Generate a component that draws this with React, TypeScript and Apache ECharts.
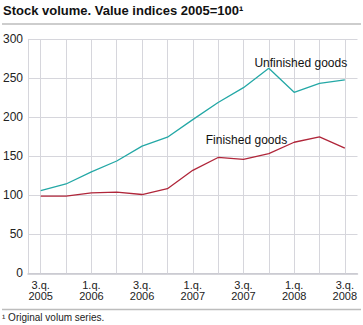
import React, { useEffect, useRef } from "react";
import * as echarts from "echarts";

const categories = [
  "3.q.\n2005", "4.q.\n2005",
  "1.q.\n2006", "2.q.\n2006", "3.q.\n2006", "4.q.\n2006",
  "1.q.\n2007", "2.q.\n2007", "3.q.\n2007", "4.q.\n2007",
  "1.q.\n2008", "2.q.\n2008", "3.q.\n2008",
];
const unfinished = [106, 114.5, 130, 144, 163, 174.5, 197, 219, 238, 263, 232, 243.5, 248];
const finished = [99, 99, 103, 104, 101, 108.5, 132, 148.5, 146, 153.5, 168, 175, 160.5];
const yTicks = { min: 0, max: 300, interval: 50 };

const TEAL = "#24a8a6";
const RED = "#b0263a";
const GRID = "#d6d6dc";

export default function App() {
  const ref = useRef<HTMLDivElement>(null);
  useEffect(() => {
    if (!ref.current) return;
    const chart = echarts.init(ref.current, null, { renderer: "svg" });
    chart.setOption({
      animation: false,
      textStyle: { fontFamily: "Liberation Sans, Arial, sans-serif" },
      grid: { left: 27.5, right: 5.5, top: 39.3, bottom: 51.7, containLabel: false },
      xAxis: {
        type: "category",
        data: categories,
        boundaryGap: true,
        axisLine: { show: true, lineStyle: { color: "#c8c8ce", width: 1.5 } },
        axisTick: {
          show: true,
          alignWithLabel: true,
          interval: 0,
          inside: true,
          length: 234,
          lineStyle: { color: GRID, width: 1 },
        },
        axisLabel: {
          interval: 1,
          fontSize: 11,
          color: "#222",
          lineHeight: 11,
          margin: 6,
        },
        splitLine: { show: false },
      },
      yAxis: {
        type: "value",
        min: yTicks.min,
        max: yTicks.max,
        interval: yTicks.interval,
        axisLine: { show: true, lineStyle: { color: GRID, width: 1 } },
        axisTick: { show: false },
        axisLabel: { fontSize: 12, color: "#222", margin: 5 },
        splitLine: { show: true, lineStyle: { color: GRID, width: 1 } },
      },
      series: [
        {
          name: "Unfinished goods",
          type: "line",
          data: unfinished,
          showSymbol: false,
          symbol: "none",
          lineStyle: { color: TEAL, width: 1.3 },
          itemStyle: { color: TEAL },
          markPoint: {
            symbol: "circle",
            symbolSize: 0,
            label: {
              show: true,
              formatter: "Unfinished goods",
              position: "inside",
              offset: [32, -5],
              fontSize: 12,
              color: "#111",
            },
            data: [{ coord: [categories[9], unfinished[9]] }],
          },
        },
        {
          name: "Finished goods",
          type: "line",
          data: finished,
          showSymbol: false,
          symbol: "none",
          lineStyle: { color: RED, width: 1.3 },
          itemStyle: { color: RED },
          markPoint: {
            symbol: "circle",
            symbolSize: 0,
            label: {
              show: true,
              formatter: "Finished goods",
              position: "inside",
              offset: [3, -19],
              fontSize: 12,
              color: "#111",
            },
            data: [{ coord: [categories[8], finished[8]] }],
          },
        },
      ],
      graphic: [
        {
          type: "text",
          left: 3,
          top: 4,
          style: {
            text: "Stock volume. Value indices 2005=100¹",
            font: "bold 13px 'Liberation Sans', Arial, sans-serif",
            fill: "#111",
          },
        },
        {
          type: "line",
          shape: { x1: 2, y1: 24, x2: 361, y2: 24 },
          style: { stroke: "#bdbdbd", lineWidth: 1.5 },
        },
        {
          type: "line",
          shape: { x1: 2, y1: 309.5, x2: 361, y2: 309.5 },
          style: { stroke: "#bdbdbd", lineWidth: 1.5 },
        },
        {
          type: "text",
          left: 2,
          top: 312,
          style: {
            text: "¹ Original volum series.",
            font: "10px 'Liberation Sans', Arial, sans-serif",
            fill: "#222",
          },
        },
      ],
    });
    return () => chart.dispose();
  }, []);
  return (
    <div
      ref={ref}
      style={{ position: "fixed", left: 0, top: 0, width: 363, height: 325, background: "#fff" }}
    />
  );
}
